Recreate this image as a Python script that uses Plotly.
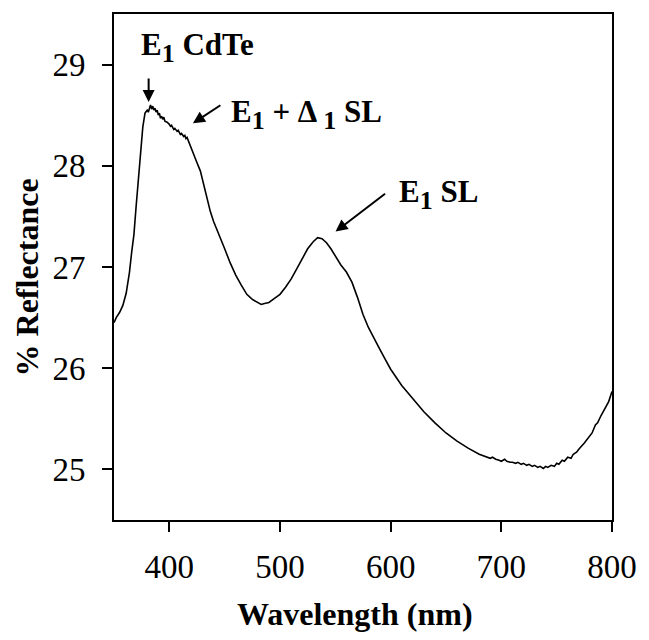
import plotly.graph_objects as go

wavelength = [350, 352, 355, 358, 361, 364, 366, 368, 370, 372, 374, 376, 378, 380, 381, 382, 383,
              384, 385, 386, 387, 388, 389, 390, 391, 392, 393, 394, 395, 396, 398, 400, 401, 402,
              404, 405, 407, 408, 410, 411, 413, 414, 415, 416, 417, 419, 422,
              425, 428, 431, 434, 437, 440, 445, 450, 455, 460, 465, 470, 475, 480, 483, 486,
              490, 495, 500, 505, 510, 515, 520, 525, 530, 534, 538, 542, 546, 550, 555, 560,
              565, 570, 575, 580, 585, 590, 595, 600, 610, 620, 630, 640, 650, 660, 670, 680,
              685, 690, 692, 695, 698, 700, 703, 705, 708, 710, 713, 715, 718, 720, 723, 725,
              728, 730, 733, 735, 738, 740, 742, 745, 748, 750, 752, 755, 757, 760, 763, 765,
              768, 770, 775, 780, 782, 785, 787, 790, 792, 795, 797, 800]
reflectance = [26.45, 26.50, 26.55, 26.62, 26.74, 26.95, 27.15, 27.32, 27.60, 27.85, 28.10, 28.38,
               28.52, 28.55, 28.53, 28.58, 28.60, 28.56, 28.59, 28.55, 28.57, 28.53, 28.55, 28.50,
               28.52, 28.47, 28.49, 28.46, 28.48, 28.44, 28.43, 28.41, 28.39, 28.40,
               28.36, 28.37, 28.34, 28.35, 28.31, 28.32, 28.29, 28.30, 28.27, 28.28, 28.25, 28.20, 28.12,
               28.03, 27.95, 27.82, 27.66, 27.55, 27.45, 27.32, 27.18, 27.04, 26.92, 26.82, 26.73,
               26.68, 26.65, 26.63, 26.64, 26.65, 26.69, 26.73, 26.80, 26.88, 26.98, 27.08, 27.18,
               27.25, 27.29, 27.28, 27.24, 27.18, 27.11, 27.02, 26.95, 26.85, 26.70, 26.53, 26.40,
               26.29, 26.19, 26.09, 25.99, 25.83, 25.70, 25.57, 25.46, 25.36, 25.28, 25.21, 25.15,
               25.13, 25.11, 25.12, 25.10, 25.09, 25.08, 25.10, 25.08, 25.07, 25.07, 25.06, 25.07,
               25.05, 25.06, 25.04, 25.05, 25.03, 25.04, 25.02, 25.03, 25.01, 25.03, 25.02, 25.04,
               25.03, 25.06, 25.05, 25.09, 25.08, 25.12, 25.11, 25.15, 25.17, 25.20, 25.26, 25.34,
               25.36, 25.44, 25.46, 25.53, 25.57, 25.63, 25.67, 25.77]

x_ticks = [400, 500, 600, 700, 800]
y_ticks = [25, 26, 27, 28, 29]

SUB = '<sub><span style="font-size:26px">1</span></sub>'
labels = ["E" + SUB + " CdTe", "E" + SUB + " + \u0394 " + SUB + " SL", "E" + SUB + " SL"]
label_x = [372.4, 454, 605.3]
label_y = [29.17, 28.51, 27.72]
arrow_x = [381.3, 421.3, 550.2]
arrow_y = [28.63, 28.42, 27.35]
arrow_ax = [0, 29, 51]
arrow_ay = [-25, -19, -39]

FONT = "Liberation Serif"

fig = go.Figure()
fig.add_trace(go.Scatter(x=wavelength, y=reflectance, mode="lines",
                         line=dict(color="black", width=1.6), showlegend=False))

for t, x, y in zip(labels, label_x, label_y):
    fig.add_annotation(x=x, y=y, xref="x", yref="y", text="<b>" + t + "</b>", showarrow=False,
                       xanchor="left", yanchor="middle",
                       font=dict(family=FONT, size=31, color="black"))
for x, y, ax, ay in zip(arrow_x, arrow_y, arrow_ax, arrow_ay):
    fig.add_annotation(x=x, y=y, xref="x", yref="y", text="", showarrow=True,
                       ax=ax, ay=ay, arrowhead=2, arrowsize=1.2, arrowwidth=2,
                       arrowcolor="black")

# axis titles
fig.add_annotation(x=-0.175, y=0.479, xref="paper", yref="paper", text="<b>% Reflectance</b>",
                   textangle=-90, showarrow=False, xanchor="center", yanchor="middle",
                   font=dict(family=FONT, size=32, color="black"))
fig.add_annotation(x=0.484, y=-0.185, xref="paper", yref="paper", text="<b>Wavelength (nm)</b>",
                   showarrow=False, xanchor="center", yanchor="middle",
                   font=dict(family=FONT, size=32, color="black"))

fig.update_xaxes(range=[350, 800], tickvals=x_ticks, ticks="outside", ticklen=10, tickwidth=2,
                 tickcolor="black", showline=True, linecolor="black", linewidth=2, mirror=True,
                 showgrid=False, zeroline=False, ticklabelstandoff=6,
                 tickfont=dict(family=FONT, size=33, color="black"))
fig.update_yaxes(range=[24.5, 29.5], tickvals=y_ticks, ticks="outside", ticklen=10, tickwidth=2,
                 tickcolor="black", showline=True, linecolor="black", linewidth=2, mirror=True,
                 showgrid=False, zeroline=False, ticklabelstandoff=10,
                 tickfont=dict(family=FONT, size=33, color="black"))
fig.update_layout(width=649, height=640, margin=dict(l=114, r=27, t=13, b=120),
                  plot_bgcolor="white", paper_bgcolor="white")
fig.write_html("out.html")
